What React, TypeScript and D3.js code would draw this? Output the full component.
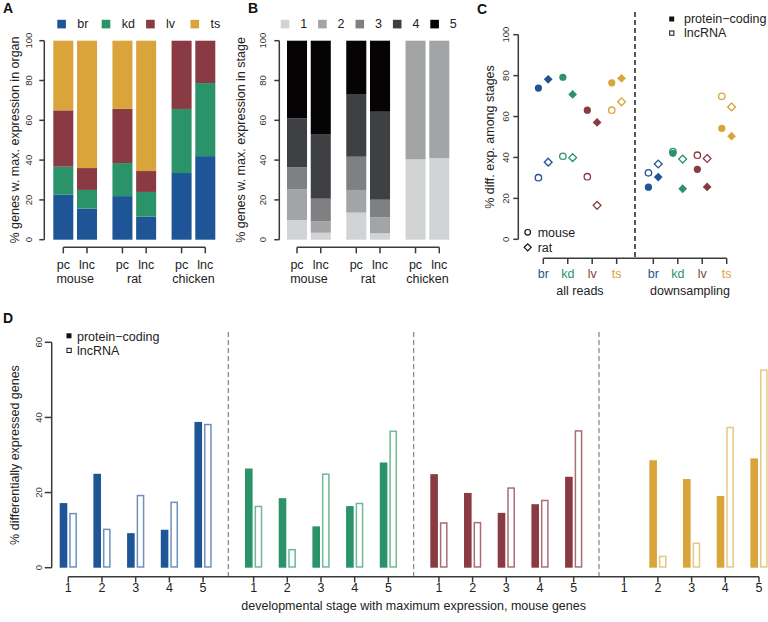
import React from 'react';
import * as d3 from 'd3';

const FONT = '"Liberation Sans", Arial, Helvetica, sans-serif';
const TXT = '#222';
const AX = '#3a3a3a';

// ---------- shared categories ----------
const organs = ['br', 'kd', 'lv', 'ts'];
const organColors = ['#1e5596', '#2a936a', '#8a3a42', '#d9a43a'];
const organLight = ['#6e91be', '#6eb996', '#aa6e73', '#e6c882'];
const species = ['mouse', 'rat', 'chicken'];
const geneTypes = ['pc', 'lnc'];
const stageKeys = ['1', '2', '3', '4', '5'];
const stageGrays = ['#d2d3d5', '#a3a4a6', '#7f8082', '#3e4043', '#050304'];
const pctTicks = [0, 20, 40, 60, 80, 100];

// ---------- Panel A: % genes w. max. expression in organ ----------
// order: mouse pc, mouse lnc, rat pc, rat lnc, chicken pc, chicken lnc
const organBr = [22.6, 15.6, 21.9, 11.6, 33.5, 42.0];
const organKd = [14.1, 9.4, 16.6, 12.4, 32.2, 36.7];
const organLv = [28.3, 11.0, 27.3, 10.5, 34.3, 21.3];
const organTs = [35.0, 64.0, 34.2, 65.5, 0, 0];

// ---------- Panel B: % genes w. max. expression in stage ----------
const stage1 = [9.9, 3.5, 13.6, 3.2, 40.4, 41.0];
const stage2 = [15.4, 5.7, 11.4, 8.1, 59.6, 59.0];
const stage3 = [11.1, 11.4, 16.7, 8.8, 0, 0];
const stage4 = [24.6, 32.2, 31.5, 44.2, 0, 0];
const stage5 = [39.0, 47.2, 26.8, 35.7, 0, 0];

// ---------- Panel C: % diff. exp. among stages ----------
const cGroups = ['all reads', 'downsampling'];
const allPcMouse = [73.9, 79.2, 63.1, 76.5];
const allPcRat = [78.2, 70.8, 57.1, 78.7];
const allLncMouse = [30.1, 40.6, 30.6, 63.1];
const allLncRat = [37.7, 39.9, 16.6, 67.2];
const dsPcMouse = [25.5, 42.0, 34.2, 54.2];
const dsPcRat = [30.4, 24.7, 25.6, 50.4];
const dsLncMouse = [32.5, 42.9, 41.1, 69.9];
const dsLncRat = [36.8, 39.2, 39.5, 64.7];

// ---------- Panel D: % differentially expressed genes ----------
const dPcBr = [17.2, 25.0, 9.2, 10.1, 38.8];
const dPcKd = [26.4, 18.5, 11.0, 16.4, 28.0];
const dPcLv = [24.9, 19.9, 14.6, 16.9, 24.2];
const dPcTs = [null, 28.6, 23.6, 19.1, 29.1];
const dLncBr = [14.6, 10.4, 19.4, 17.6, 38.3];
const dLncKd = [16.5, 5.0, 25.1, 17.3, 36.5];
const dLncLv = [12.1, 12.2, 21.4, 18.1, 36.6];
const dLncTs = [null, 3.2, 6.7, 37.5, 52.8];
const dTicks = [0, 20, 40, 60];

// ---------- helpers ----------
function YAxis({ x, scale, ticks, tickLen, labelX, fs }: any) {
  const [r0, r1] = scale.range();
  return (
    <g>
      <line x1={x} x2={x} y1={r0} y2={r1} stroke={AX} strokeWidth={1.5} />
      {ticks.map((t: number) => (
        <g key={t}>
          <line x1={x - tickLen} x2={x} y1={scale(t)} y2={scale(t)} stroke={AX} strokeWidth={1.5} />
          <text
            transform={`translate(${labelX},${scale(t)}) rotate(-90)`}
            textAnchor="middle"
            dy="0.35em"
            fontSize={fs}
            fill="#333"
          >
            {t}
          </text>
        </g>
      ))}
    </g>
  );
}

function RotTitle({ x, y, text, fs = 12.5 }: any) {
  return (
    <text transform={`translate(${x},${y}) rotate(-90)`} textAnchor="middle" dy="0.35em" fontSize={fs} fill={TXT}>
      {text}
    </text>
  );
}

const barRows = species.flatMap((sp) => geneTypes.map((gt) => ({ sp, gt })));

function StackPanel({ x0, x1, rows, keys, colors, yScale, legendX0, legendStep, legendLabels }: any) {
  const outer = d3.scaleBand().domain(species).range([x0, x1]).paddingInner(0.261);
  const inner = d3.scaleBand().domain(geneTypes).range([0, outer.bandwidth()]).paddingInner(0.156);
  const series = d3.stack().keys(keys)(rows);
  const bx = (r: any) => (outer(r.sp) as number) + (inner(r.gt) as number);
  const centers = rows.map((r: any) => bx(r) + inner.bandwidth() / 2);
  const axY = 247.3;
  return (
    <g>
      {series.map((s: any, si: number) => (
        <g key={si} fill={colors[si]}>
          {s.map((d: any, i: number) =>
            d[1] - d[0] > 0 ? (
              <rect
                key={i}
                x={bx(rows[i])}
                width={inner.bandwidth()}
                y={yScale(d[1])}
                height={yScale(d[0]) - yScale(d[1])}
              />
            ) : null
          )}
        </g>
      ))}
      {/* category axis */}
      <line x1={centers[0]} x2={centers[centers.length - 1]} y1={axY} y2={axY} stroke={AX} strokeWidth={1.5} />
      {centers.map((c: number, i: number) => (
        <g key={i}>
          <line x1={c} x2={c} y1={axY} y2={axY + 6} stroke={AX} strokeWidth={1.5} />
          <text x={c} y={268.5} textAnchor="middle" fontSize={12.5} fill={TXT}>
            {rows[i].gt}
          </text>
        </g>
      ))}
      {species.map((sp) => (
        <text key={sp} x={(outer(sp) as number) + outer.bandwidth() / 2} y={283} textAnchor="middle" fontSize={12.5} fill={TXT}>
          {sp}
        </text>
      ))}
      {/* legend */}
      {legendLabels.map((lab: string, i: number) => (
        <g key={lab}>
          <rect x={legendX0 + i * legendStep} y={19.8} width={8.6} height={8.6} fill={colors[i]} />
          <text x={legendX0 + i * legendStep + (legendLabels[0].length > 1 ? 20 : 19.5)} y={28.3} fontSize={12.5} fill={TXT}>
            {lab}
          </text>
        </g>
      ))}
    </g>
  );
}

function diamond(r: number) {
  const p = d3.path();
  p.moveTo(0, -r);
  p.lineTo(r, 0);
  p.lineTo(0, r);
  p.lineTo(-r, 0);
  p.closePath();
  return p.toString();
}

export default function App() {
  // ----- A -----
  const yAB = d3.scaleLinear().domain([0, 100]).range([239.7, 40.7]);
  const organRows = barRows.map((r, i) => ({ ...r, br: organBr[i], kd: organKd[i], lv: organLv[i], ts: organTs[i] }));
  const stageRows = barRows.map((r, i) => ({
    ...r,
    '1': stage1[i],
    '2': stage2[i],
    '3': stage3[i],
    '4': stage4[i],
    '5': stage5[i],
  }));

  // ----- C -----
  const yC = d3.scaleLinear().domain([0, 100]).range([239.3, 34.7]);
  const xC = d3.scaleLinear().domain([0, 7.5]).range([543.3, 726.7]);
  const cData = [
    { g: 0, pcM: allPcMouse, pcR: allPcRat, lncM: allLncMouse, lncR: allLncRat },
    { g: 1, pcM: dsPcMouse, pcR: dsPcRat, lncM: dsLncMouse, lncR: dsLncRat },
  ];
  const cIdx = (g: number, o: number) => g * 4.5 + o;

  // ----- D -----
  const yD = d3.scaleLinear().domain([0, 60]).range([567.7, 342.3]);
  const xD = d3.scaleLinear().domain([0, 20.5]).range([68.3, 759]);
  const dPc = [dPcBr, dPcKd, dPcLv, dPcTs];
  const dLnc = [dLncBr, dLncKd, dLncLv, dLncTs];
  const dIdx = (g: number, s: number) => g * 5.5 + s;

  return (
    <svg
      width={768}
      height={622}
      style={{ position: 'absolute', left: 0, top: 0, background: '#fff' }}
      fontFamily={FONT}
    >
      <rect x={0} y={0} width={768} height={622} fill="#fff" />

      {/* ================= A ================= */}
      <text x={3} y={12.5} fontSize={14} fontWeight="bold" fill="#111">A</text>
      <RotTitle x={15} y={140} text="% genes w. max. expression in organ" />
      <YAxis x={44.3} scale={yAB} ticks={pctTicks} tickLen={5} labelX={28.5} fs={9.5} />
      <StackPanel
        x0={53.3}
        x1={215.3}
        rows={organRows}
        keys={organs}
        colors={organColors}
        yScale={yAB}
        legendX0={57.3}
        legendStep={44.4}
        legendLabels={organs}
      />

      {/* ================= B ================= */}
      <text x={248} y={12.5} fontSize={14} fontWeight="bold" fill="#111">B</text>
      <RotTitle x={241} y={140} text="% genes w. max. expression in stage" />
      <YAxis x={279.3} scale={yAB} ticks={pctTicks} tickLen={5} labelX={262.5} fs={9.5} />
      <StackPanel
        x0={287}
        x1={449.3}
        rows={stageRows}
        keys={stageKeys}
        colors={stageGrays}
        yScale={yAB}
        legendX0={280.7}
        legendStep={37.4}
        legendLabels={stageKeys}
      />

      {/* ================= C ================= */}
      <text x={477} y={14} fontSize={14} fontWeight="bold" fill="#111">C</text>
      <RotTitle x={490} y={137} text="% diff. exp. among stages" />
      <YAxis x={518.3} scale={yC} ticks={pctTicks} tickLen={5} labelX={505.5} fs={9.5} />
      <line x1={xC(3.75)} x2={xC(3.75)} y1={12} y2={258.3} stroke="#111" strokeWidth={1.4} strokeDasharray="5,3" />
      <line x1={xC(0)} x2={xC(7.5)} y1={258.3} y2={258.3} stroke={AX} strokeWidth={1.5} />
      {cGroups.map((lab, g) => (
        <g key={lab}>
          {organs.map((o, oi) => (
            <g key={o}>
              <line x1={xC(cIdx(g, oi))} x2={xC(cIdx(g, oi))} y1={258.3} y2={264} stroke={AX} strokeWidth={1.5} />
              <text x={xC(cIdx(g, oi))} y={278.3} textAnchor="middle" fontSize={12.5} fill={organColors[oi]}>
                {o}
              </text>
            </g>
          ))}
          <text x={(xC(cIdx(g, 0)) + xC(cIdx(g, 3))) / 2} y={294.5} textAnchor="middle" fontSize={12.5} fill={TXT}>
            {lab}
          </text>
        </g>
      ))}
      {cData.map((cd) =>
        organs.map((o, oi) => {
          const xm = xC(cIdx(cd.g, oi) - 0.2);
          const xr = xC(cIdx(cd.g, oi) + 0.2);
          const col = organColors[oi];
          return (
            <g key={`${cd.g}-${o}`}>
              <circle cx={xm} cy={yC(cd.lncM[oi])} r={3.2} fill="#fff" stroke={col} strokeWidth={1.3} />
              <path d={diamond(3.9)} transform={`translate(${xr},${yC(cd.lncR[oi])})`} fill="#fff" stroke={col} strokeWidth={1.3} />
              <circle cx={xm} cy={yC(cd.pcM[oi])} r={3.6} fill={col} />
              <path d={diamond(4.4)} transform={`translate(${xr},${yC(cd.pcR[oi])})`} fill={col} />
            </g>
          );
        })
      )}
      {/* C legends */}
      <rect x={669.2} y={16.5} width={5} height={5} fill="#111" />
      <text x={684} y={22.8} fontSize={12.5} fill={TXT}>protein−coding</text>
      <rect x={669.7} y={31} width={4.2} height={4.2} fill="#fff" stroke="#111" strokeWidth={1} />
      <text x={684} y={37} fontSize={12.5} fill={TXT}>lncRNA</text>
      <circle cx={527.7} cy={232.3} r={2.8} fill="#fff" stroke="#111" strokeWidth={1.2} />
      <text x={537.7} y={236.8} fontSize={12.5} fill={TXT}>mouse</text>
      <path d={diamond(3.5)} transform="translate(527.7,247.3)" fill="#fff" stroke="#111" strokeWidth={1.2} />
      <text x={537.7} y={251.8} fontSize={12.5} fill={TXT}>rat</text>

      {/* ================= D ================= */}
      <text x={3} y={322.5} fontSize={14} fontWeight="bold" fill="#111">D</text>
      <RotTitle x={14.2} y={455} text="% differentially expressed genes" />
      <YAxis x={51.7} scale={yD} ticks={dTicks} tickLen={7} labelX={38.5} fs={9.5} />
      {[0, 1, 2].map((g) => (
        <line
          key={g}
          x1={xD(dIdx(g, 4.75))}
          x2={xD(dIdx(g, 4.75))}
          y1={332}
          y2={576.7}
          stroke="#8a8a8a"
          strokeWidth={1.3}
          strokeDasharray="5,3"
        />
      ))}
      <line x1={xD(0)} x2={xD(20.5)} y1={576.7} y2={576.7} stroke={AX} strokeWidth={1.5} />
      {organs.map((o, g) =>
        stageKeys.map((s, si) => {
          const cx = xD(dIdx(g, si));
          const pc = dPc[g][si];
          const lnc = dLnc[g][si];
          return (
            <g key={`${o}-${s}`}>
              <line x1={cx} x2={cx} y1={576.7} y2={582.5} stroke={AX} strokeWidth={1.5} />
              <text x={cx} y={591.5} textAnchor="middle" fontSize={12.5} fill={TXT}>
                {s}
              </text>
              {pc != null && (
                <rect x={cx - 8.6} width={7.6} y={yD(pc)} height={yD(0) - yD(pc)} fill={organColors[g]} />
              )}
              {lnc != null && (
                <rect
                  x={cx + 1.7}
                  width={6.2}
                  y={yD(lnc) + 0.75}
                  height={yD(0) - yD(lnc) - 1.5}
                  fill="#fff"
                  stroke={organLight[g]}
                  strokeWidth={1.5}
                />
              )}
            </g>
          );
        })
      )}
      <text x={(xD(0) + xD(20.5)) / 2} y={610.3} textAnchor="middle" fontSize={12.5} fill={TXT}>
        developmental stage with maximum expression, mouse genes
      </text>
      {/* D legend */}
      <rect x={66.5} y={333.3} width={5} height={5} fill="#111" />
      <text x={77} y={340.7} fontSize={12.5} fill={TXT}>protein−coding</text>
      <rect x={67} y={348.3} width={4.2} height={4.2} fill="#fff" stroke="#111" strokeWidth={1} />
      <text x={77} y={354.5} fontSize={12.5} fill={TXT}>lncRNA</text>
    </svg>
  );
}
